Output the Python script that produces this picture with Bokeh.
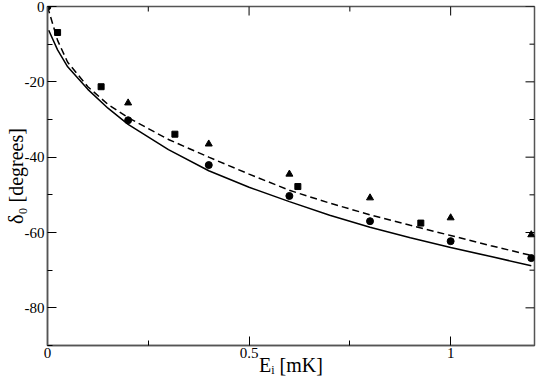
from bokeh.plotting import figure
from bokeh.models import Range1d, FixedTicker
from bokeh.embed import file_html
from bokeh.resources import INLINE

# ---- data ----
circ_x = [0.0, 0.2, 0.4, 0.6, 0.8, 1.0, 1.2]
circ_y = [0.0, -30.2, -42.1, -50.3, -57.0, -62.3, -66.8]

tri_x = [0.2, 0.4, 0.6, 0.8, 1.0, 1.2]
tri_y = [-25.6, -36.5, -44.5, -50.8, -56.1, -60.6]

sq_x = [0.025, 0.133, 0.316, 0.621, 0.926]
sq_y = [-6.9, -21.3, -33.9, -47.8, -57.5]

solid_x = [0.003, 0.025, 0.05, 0.1, 0.15, 0.2, 0.3, 0.4, 0.5, 0.6, 0.7, 0.8, 0.9, 1.0, 1.1, 1.2]
solid_y = [-6.3, -11.5, -16.0, -22.0, -27.0, -31.3, -38.0, -43.6, -48.0, -51.8, -55.4, -58.6, -61.4, -64.0, -66.4, -68.8]

dash_x = [0.0, 0.025, 0.05, 0.1, 0.15, 0.2, 0.3, 0.4, 0.5, 0.6, 0.7, 0.8, 0.9, 1.0, 1.1, 1.2]
dash_y = [0.0, -9.0, -14.8, -21.3, -26.0, -29.5, -35.3, -40.0, -44.5, -48.8, -52.2, -55.3, -58.1, -60.8, -63.5, -66.1]

x_major = [0, 0.5, 1]
x_minor = [0.25, 0.75]
x_labels = ["0", "0.5", "1"]
y_major = [0, -20, -40, -60, -80]
y_minor = [-10, -30, -50, -70, -90]
y_labels = ["0", "-20", "-40", "-60", "-80"]

X_MIN, X_MAX = 0, 1.208
Y_MIN, Y_MAX = -90, 0

FONT = "Times"
AXC = "#555555"
MAJ, MIN = 9, 5

p = figure(width=537, height=383, output_backend="svg", toolbar_location=None,
           x_range=Range1d(X_MIN, X_MAX), y_range=Range1d(Y_MIN, Y_MAX),
           min_border_left=47, min_border_right=3, min_border_top=6,
           min_border_bottom=38, background_fill_color="white",
           border_fill_color="white")
p.grid.visible = False
p.outline_line_color = AXC
p.outline_line_width = 1.5


def style(ax, major, minor, labels, std, lab_std):
    ax.ticker = FixedTicker(ticks=major, minor_ticks=minor)
    ax.major_tick_in = MAJ
    ax.major_tick_out = 0
    ax.minor_tick_in = MIN
    ax.minor_tick_out = 0
    ax.axis_line_color = AXC
    ax.axis_line_width = 1.5
    ax.major_tick_line_color = "black"
    ax.minor_tick_line_color = "black"
    ax.major_label_overrides = {v: s for v, s in zip(major, labels)}
    ax.major_label_text_font = FONT
    ax.major_label_text_font_size = "15px"
    ax.major_label_text_color = "black"
    ax.major_label_standoff = std
    ax.axis_label_text_font = FONT
    ax.axis_label_text_font_size = "20px"
    ax.axis_label_text_font_style = "normal"
    ax.axis_label_text_color = "black"
    ax.axis_label_standoff = lab_std


style(p.xaxis[0], x_major, x_minor, x_labels, 2, -7)
style(p.yaxis[0], y_major, y_minor, y_labels, 3, -5)
p.xaxis[0].axis_label = "E\u1d62 [mK]"
p.yaxis[0].axis_label = "\u03b4\u2080 [degrees]"

# inward ticks on the top and right edges (mirrored axes)
p.ray(x=x_major, y=[Y_MAX] * len(x_major), length=MAJ, length_units="screen",
      angle=-90, angle_units="deg", line_color="black", line_width=1)
p.ray(x=x_minor, y=[Y_MAX] * len(x_minor), length=MIN, length_units="screen",
      angle=-90, angle_units="deg", line_color="black", line_width=1)
p.ray(x=[X_MAX] * len(y_major), y=y_major, length=MAJ, length_units="screen",
      angle=180, angle_units="deg", line_color="black", line_width=1)
p.ray(x=[X_MAX] * len(y_minor), y=y_minor, length=MIN, length_units="screen",
      angle=180, angle_units="deg", line_color="black", line_width=1)

p.line(solid_x, solid_y, line_color="black", line_width=1.5)
p.line(dash_x, dash_y, line_color="black", line_width=1.5, line_dash="7 4")

p.scatter(circ_x, circ_y, marker="circle", size=7, color="black")
p.scatter(tri_x, tri_y, marker="triangle", size=7, color="black")
p.scatter(sq_x, sq_y, marker="square", size=6, color="black")

open("out.html", "w").write(file_html(p, INLINE))
